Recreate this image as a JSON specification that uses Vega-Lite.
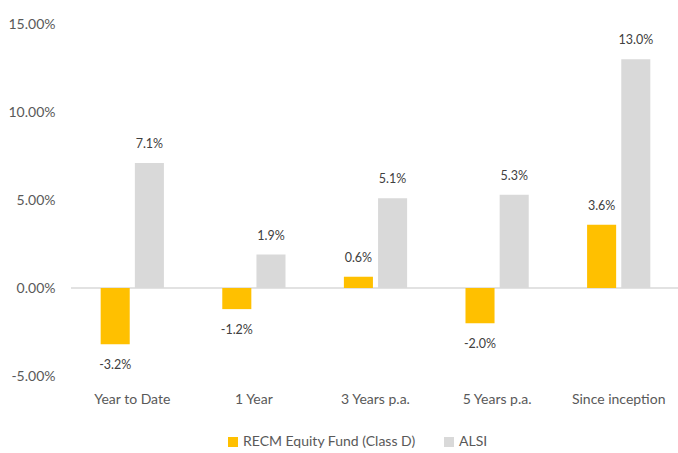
{
  "$schema": "https://vega.github.io/schema/vega-lite/v6.json",
  "width": 609,
  "height": 352,
  "autosize": {"type": "none"},
  "padding": {"left": 71, "top": 24, "right": 0, "bottom": 77},
  "config": {
    "view": {"stroke": null},
    "font": "Lato",
    "locale": {"number": {"decimal": ".", "thousands": ",", "grouping": [3], "currency": ["$", ""], "minus": "-"}}
  },
  "data": {
    "values": [
      {"period": "Year to Date", "series": "RECM Equity Fund (Class D)", "value": -0.032},
      {"period": "Year to Date", "series": "ALSI", "value": 0.071},
      {"period": "1 Year", "series": "RECM Equity Fund (Class D)", "value": -0.012},
      {"period": "1 Year", "series": "ALSI", "value": 0.019},
      {"period": "3 Years p.a.", "series": "RECM Equity Fund (Class D)", "value": 0.0064},
      {"period": "3 Years p.a.", "series": "ALSI", "value": 0.051},
      {"period": "5 Years p.a.", "series": "RECM Equity Fund (Class D)", "value": -0.020},
      {"period": "5 Years p.a.", "series": "ALSI", "value": 0.053},
      {"period": "Since inception", "series": "RECM Equity Fund (Class D)", "value": 0.036},
      {"period": "Since inception", "series": "ALSI", "value": 0.130}
    ]
  },
  "layer": [
    {
      "data": {"values": [{"zero": 0}]},
      "mark": {"type": "rule", "color": "#D9D9D9", "strokeWidth": 1.5},
      "encoding": {
        "y": {"field": "zero", "type": "quantitative", "scale": {"domain": [-0.05, 0.15], "nice": false}}
      }
    },
    {
      "mark": {"type": "bar"},
      "encoding": {
        "x": {
          "field": "period", "type": "nominal",
          "sort": ["Year to Date", "1 Year", "3 Years p.a.", "5 Years p.a.", "Since inception"],
          "scale": {"paddingInner": 0.48, "paddingOuter": 0.244},
          "axis": {"title": null, "labelAngle": 0, "domain": false, "ticks": false, "tickSize": 0, "labelPadding": 16, "labelFontSize": 14, "labelColor": "#595959"}
        },
        "xOffset": {
          "field": "series", "type": "nominal",
          "sort": ["RECM Equity Fund (Class D)", "ALSI"],
          "scale": {"paddingInner": 0.15, "paddingOuter": 0}
        },
        "y": {
          "field": "value", "type": "quantitative",
          "scale": {"domain": [-0.05, 0.15], "nice": false},
          "axis": {"title": null, "domain": false, "ticks": false, "tickSize": 0, "grid": false, "values": [-0.05, 0, 0.05, 0.1, 0.15], "format": ".2%", "labelFontSize": 14, "labelColor": "#595959", "labelPadding": 16}
        },
        "color": {
          "field": "series", "type": "nominal",
          "scale": {"domain": ["RECM Equity Fund (Class D)", "ALSI"], "range": ["#FFC000", "#D9D9D9"]},
          "legend": {"title": null, "orient": "none", "legendX": 155, "legendY": 411, "direction": "horizontal", "symbolType": "square", "symbolSize": 100, "symbolStrokeWidth": 0, "labelFontSize": 14, "labelColor": "#595959", "labelLimit": 0, "columnPadding": 26, "labelOffset": 3}
        }
      }
    },
    {
      "transform": [{"filter": "datum.value >= 0"}],
      "mark": {"type": "text", "baseline": "middle", "dy": -19, "fontSize": 12.5, "color": "#404040"},
      "encoding": {
        "x": {"field": "period", "type": "nominal", "sort": ["Year to Date", "1 Year", "3 Years p.a.", "5 Years p.a.", "Since inception"]},
        "xOffset": {"field": "series", "type": "nominal", "sort": ["RECM Equity Fund (Class D)", "ALSI"]},
        "y": {"field": "value", "type": "quantitative"},
        "text": {"field": "value", "type": "quantitative", "format": ".1%"}
      }
    },
    {
      "transform": [{"filter": "datum.value < 0"}],
      "mark": {"type": "text", "baseline": "middle", "dy": 21, "fontSize": 12.5, "color": "#404040"},
      "encoding": {
        "x": {"field": "period", "type": "nominal", "sort": ["Year to Date", "1 Year", "3 Years p.a.", "5 Years p.a.", "Since inception"]},
        "xOffset": {"field": "series", "type": "nominal", "sort": ["RECM Equity Fund (Class D)", "ALSI"]},
        "y": {"field": "value", "type": "quantitative"},
        "text": {"field": "value", "type": "quantitative", "format": ".1%"}
      }
    }
  ]
}
